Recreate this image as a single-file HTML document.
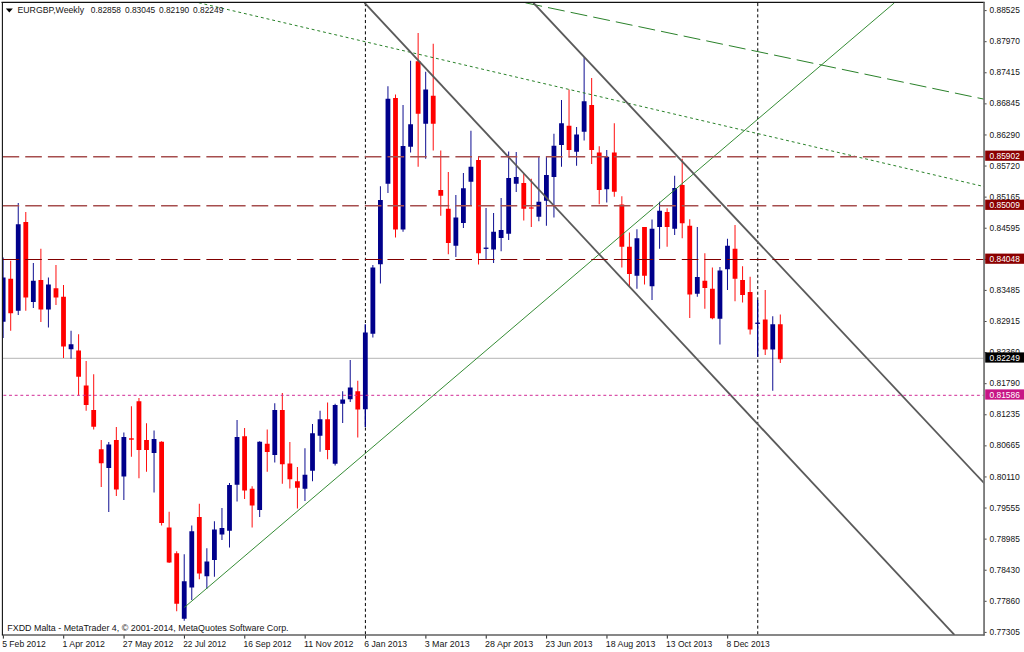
<!DOCTYPE html>
<html lang="en"><head><meta charset="utf-8"><title>EURGBP Weekly</title>
<style>
html,body{margin:0;padding:0;background:#fff;}
body{width:1024px;height:652px;overflow:hidden;position:relative;font-family:"Liberation Sans",sans-serif;}
svg{position:absolute;left:0;top:0;display:block;}
text{font-family:"Liberation Sans",sans-serif;fill:#141414;}
.ax{font-size:8.9px;}
.dt{font-size:8.9px;}
.tag{font-size:8.9px;fill:#fff;}
</style></head><body>
<svg width="1024" height="652" viewBox="0 0 1024 652">
<rect x="0" y="0" width="1024" height="652" fill="#fff"/>
<defs><clipPath id="plot"><rect x="2.9" y="2.9" width="980.6" height="631.6"/></clipPath></defs>
<g clip-path="url(#plot)">
<line x1="3" y1="358.3" x2="984" y2="358.3" stroke="#b4b4b4" stroke-width="1"/>
<line x1="365.4" y1="3" x2="365.4" y2="634.5" stroke="#000" stroke-width="1" stroke-dasharray="3.1 2.56"/>
<line x1="757.75" y1="3" x2="757.75" y2="634.5" stroke="#000" stroke-width="1" stroke-dasharray="3.1 2.56"/>
<line x1="3.15" y1="257.5" x2="3.15" y2="338" stroke="#00008b" stroke-width="0.95"/>
<rect x="0.75" y="277.5" width="4.8" height="44.25" fill="#00008b"/>
<line x1="10.7" y1="260.75" x2="10.7" y2="330.75" stroke="#ff0000" stroke-width="0.95"/>
<rect x="8.3" y="278.75" width="4.8" height="34.5" fill="#ff0000"/>
<line x1="18.24" y1="203" x2="18.24" y2="315" stroke="#00008b" stroke-width="0.95"/>
<rect x="15.84" y="224.25" width="4.8" height="86.5" fill="#00008b"/>
<line x1="25.79" y1="212" x2="25.79" y2="310.75" stroke="#ff0000" stroke-width="0.95"/>
<rect x="23.39" y="222" width="4.8" height="75.5" fill="#ff0000"/>
<line x1="33.33" y1="263" x2="33.33" y2="308" stroke="#00008b" stroke-width="0.95"/>
<rect x="30.93" y="280.75" width="4.8" height="21.25" fill="#00008b"/>
<line x1="40.88" y1="248.75" x2="40.88" y2="322" stroke="#ff0000" stroke-width="0.95"/>
<rect x="38.48" y="280" width="4.8" height="29.5" fill="#ff0000"/>
<line x1="48.42" y1="277.5" x2="48.42" y2="327.5" stroke="#00008b" stroke-width="0.95"/>
<rect x="46.02" y="284.5" width="4.8" height="25" fill="#00008b"/>
<line x1="55.97" y1="265" x2="55.97" y2="305" stroke="#ff0000" stroke-width="0.95"/>
<rect x="53.57" y="288.25" width="4.8" height="9.25" fill="#ff0000"/>
<line x1="63.51" y1="285" x2="63.51" y2="358" stroke="#ff0000" stroke-width="0.95"/>
<rect x="61.11" y="296.75" width="4.8" height="49.75" fill="#ff0000"/>
<line x1="71.06" y1="330.75" x2="71.06" y2="358.75" stroke="#00008b" stroke-width="0.95"/>
<rect x="68.66" y="344.25" width="4.8" height="5" fill="#00008b"/>
<line x1="78.6" y1="334.25" x2="78.6" y2="395.5" stroke="#ff0000" stroke-width="0.95"/>
<rect x="76.2" y="350.5" width="4.8" height="26.25" fill="#ff0000"/>
<line x1="86.15" y1="361" x2="86.15" y2="410.75" stroke="#ff0000" stroke-width="0.95"/>
<rect x="83.75" y="385.5" width="4.8" height="19.5" fill="#ff0000"/>
<line x1="93.69" y1="374.25" x2="93.69" y2="429.5" stroke="#ff0000" stroke-width="0.95"/>
<rect x="91.29" y="410" width="4.8" height="16.75" fill="#ff0000"/>
<line x1="101.24" y1="440" x2="101.24" y2="487" stroke="#ff0000" stroke-width="0.95"/>
<rect x="98.84" y="449.25" width="4.8" height="14" fill="#ff0000"/>
<line x1="108.78" y1="442" x2="108.78" y2="512" stroke="#00008b" stroke-width="0.95"/>
<rect x="106.38" y="444.5" width="4.8" height="23.5" fill="#00008b"/>
<line x1="116.33" y1="427" x2="116.33" y2="496" stroke="#ff0000" stroke-width="0.95"/>
<rect x="113.93" y="440" width="4.8" height="49.5" fill="#ff0000"/>
<line x1="123.87" y1="432.5" x2="123.87" y2="500" stroke="#00008b" stroke-width="0.95"/>
<rect x="121.47" y="437" width="4.8" height="39.5" fill="#00008b"/>
<line x1="131.42" y1="406.25" x2="131.42" y2="456.75" stroke="#ff0000" stroke-width="0.95"/>
<rect x="129.02" y="438.3" width="4.8" height="1.4" fill="#ff0000"/>
<line x1="138.96" y1="398" x2="138.96" y2="478.25" stroke="#ff0000" stroke-width="0.95"/>
<rect x="136.56" y="401.25" width="4.8" height="48.75" fill="#ff0000"/>
<line x1="146.51" y1="423.25" x2="146.51" y2="471.75" stroke="#ff0000" stroke-width="0.95"/>
<rect x="144.11" y="440" width="4.8" height="10" fill="#ff0000"/>
<line x1="154.05" y1="430.5" x2="154.05" y2="492.5" stroke="#00008b" stroke-width="0.95"/>
<rect x="151.65" y="439" width="4.8" height="14" fill="#00008b"/>
<line x1="161.6" y1="441.25" x2="161.6" y2="525.5" stroke="#ff0000" stroke-width="0.95"/>
<rect x="159.2" y="441.75" width="4.8" height="81.25" fill="#ff0000"/>
<line x1="169.14" y1="511.75" x2="169.14" y2="563" stroke="#ff0000" stroke-width="0.95"/>
<rect x="166.74" y="527.5" width="4.8" height="35" fill="#ff0000"/>
<line x1="176.69" y1="551.25" x2="176.69" y2="611.25" stroke="#ff0000" stroke-width="0.95"/>
<rect x="174.29" y="553.25" width="4.8" height="50.5" fill="#ff0000"/>
<line x1="184.23" y1="554.25" x2="184.23" y2="620.75" stroke="#00008b" stroke-width="0.95"/>
<rect x="181.83" y="581.25" width="4.8" height="37.5" fill="#00008b"/>
<line x1="191.78" y1="525.5" x2="191.78" y2="600" stroke="#00008b" stroke-width="0.95"/>
<rect x="189.38" y="531.25" width="4.8" height="56.25" fill="#00008b"/>
<line x1="199.32" y1="503.75" x2="199.32" y2="579.25" stroke="#ff0000" stroke-width="0.95"/>
<rect x="196.92" y="517" width="4.8" height="56.5" fill="#ff0000"/>
<line x1="206.87" y1="548.25" x2="206.87" y2="588.75" stroke="#00008b" stroke-width="0.95"/>
<rect x="204.47" y="561.5" width="4.8" height="14.75" fill="#00008b"/>
<line x1="214.41" y1="521.25" x2="214.41" y2="576.75" stroke="#00008b" stroke-width="0.95"/>
<rect x="212.01" y="529.5" width="4.8" height="30.5" fill="#00008b"/>
<line x1="221.96" y1="508" x2="221.96" y2="540" stroke="#00008b" stroke-width="0.95"/>
<rect x="219.56" y="528" width="4.8" height="6.5" fill="#00008b"/>
<line x1="229.5" y1="483" x2="229.5" y2="547.5" stroke="#00008b" stroke-width="0.95"/>
<rect x="227.1" y="485" width="4.8" height="45.75" fill="#00008b"/>
<line x1="237.05" y1="420" x2="237.05" y2="501.5" stroke="#00008b" stroke-width="0.95"/>
<rect x="234.65" y="437" width="4.8" height="47.75" fill="#00008b"/>
<line x1="244.59" y1="428" x2="244.59" y2="499" stroke="#ff0000" stroke-width="0.95"/>
<rect x="242.19" y="436.25" width="4.8" height="54.25" fill="#ff0000"/>
<line x1="252.14" y1="486.25" x2="252.14" y2="527.5" stroke="#ff0000" stroke-width="0.95"/>
<rect x="249.74" y="488.75" width="4.8" height="16.75" fill="#ff0000"/>
<line x1="259.68" y1="441.25" x2="259.68" y2="517" stroke="#00008b" stroke-width="0.95"/>
<rect x="257.28" y="441.75" width="4.8" height="68.25" fill="#00008b"/>
<line x1="267.23" y1="429.5" x2="267.23" y2="471.75" stroke="#ff0000" stroke-width="0.95"/>
<rect x="264.83" y="443.75" width="4.8" height="8.25" fill="#ff0000"/>
<line x1="274.78" y1="403.25" x2="274.78" y2="462.5" stroke="#00008b" stroke-width="0.95"/>
<rect x="272.38" y="410" width="4.8" height="45" fill="#00008b"/>
<line x1="282.32" y1="393" x2="282.32" y2="483.75" stroke="#ff0000" stroke-width="0.95"/>
<rect x="279.92" y="410" width="4.8" height="54.25" fill="#ff0000"/>
<line x1="289.87" y1="442" x2="289.87" y2="488.5" stroke="#ff0000" stroke-width="0.95"/>
<rect x="287.47" y="463.5" width="4.8" height="15.75" fill="#ff0000"/>
<line x1="297.41" y1="467" x2="297.41" y2="508.5" stroke="#ff0000" stroke-width="0.95"/>
<rect x="295.01" y="481.25" width="4.8" height="6.5" fill="#ff0000"/>
<line x1="304.96" y1="448.25" x2="304.96" y2="501" stroke="#00008b" stroke-width="0.95"/>
<rect x="302.56" y="474.75" width="4.8" height="14" fill="#00008b"/>
<line x1="312.5" y1="424" x2="312.5" y2="481.25" stroke="#00008b" stroke-width="0.95"/>
<rect x="310.1" y="433.25" width="4.8" height="37.5" fill="#00008b"/>
<line x1="320.05" y1="410.75" x2="320.05" y2="451.75" stroke="#00008b" stroke-width="0.95"/>
<rect x="317.65" y="419.25" width="4.8" height="16.5" fill="#00008b"/>
<line x1="327.59" y1="402.5" x2="327.59" y2="459.25" stroke="#ff0000" stroke-width="0.95"/>
<rect x="325.19" y="419.25" width="4.8" height="30.75" fill="#ff0000"/>
<line x1="335.14" y1="403.75" x2="335.14" y2="465.5" stroke="#00008b" stroke-width="0.95"/>
<rect x="332.74" y="405" width="4.8" height="58.75" fill="#00008b"/>
<line x1="342.68" y1="391.25" x2="342.68" y2="423" stroke="#00008b" stroke-width="0.95"/>
<rect x="340.28" y="399.5" width="4.8" height="4.25" fill="#00008b"/>
<line x1="350.23" y1="360" x2="350.23" y2="402" stroke="#00008b" stroke-width="0.95"/>
<rect x="347.83" y="387.5" width="4.8" height="11.75" fill="#00008b"/>
<line x1="357.77" y1="380.75" x2="357.77" y2="437.5" stroke="#ff0000" stroke-width="0.95"/>
<rect x="355.37" y="391.25" width="4.8" height="18.25" fill="#ff0000"/>
<line x1="365.32" y1="324.25" x2="365.32" y2="427" stroke="#00008b" stroke-width="1.35"/>
<rect x="362.92" y="332.5" width="4.8" height="76.75" fill="#00008b"/>
<line x1="372.86" y1="265" x2="372.86" y2="337.5" stroke="#00008b" stroke-width="0.95"/>
<rect x="370.46" y="267.5" width="4.8" height="66.25" fill="#00008b"/>
<line x1="380.41" y1="186.25" x2="380.41" y2="283.5" stroke="#00008b" stroke-width="0.95"/>
<rect x="378.01" y="200" width="4.8" height="64.25" fill="#00008b"/>
<line x1="387.95" y1="86.25" x2="387.95" y2="193" stroke="#00008b" stroke-width="0.95"/>
<rect x="385.55" y="98.75" width="4.8" height="85" fill="#00008b"/>
<line x1="395.5" y1="94.5" x2="395.5" y2="237.5" stroke="#ff0000" stroke-width="0.95"/>
<rect x="393.1" y="98" width="4.8" height="131.5" fill="#ff0000"/>
<line x1="403.04" y1="105" x2="403.04" y2="231.75" stroke="#00008b" stroke-width="0.95"/>
<rect x="400.64" y="146" width="4.8" height="83.5" fill="#00008b"/>
<line x1="410.59" y1="60.75" x2="410.59" y2="152.5" stroke="#00008b" stroke-width="0.95"/>
<rect x="408.19" y="124.25" width="4.8" height="22.5" fill="#00008b"/>
<line x1="418.13" y1="33" x2="418.13" y2="166.75" stroke="#ff0000" stroke-width="0.95"/>
<rect x="415.73" y="61.25" width="4.8" height="52.5" fill="#ff0000"/>
<line x1="425.68" y1="71.75" x2="425.68" y2="158.75" stroke="#00008b" stroke-width="0.95"/>
<rect x="423.28" y="89.5" width="4.8" height="34.25" fill="#00008b"/>
<line x1="433.22" y1="43.75" x2="433.22" y2="150.5" stroke="#ff0000" stroke-width="0.95"/>
<rect x="430.82" y="95.75" width="4.8" height="28" fill="#ff0000"/>
<line x1="440.77" y1="150.5" x2="440.77" y2="215.75" stroke="#ff0000" stroke-width="0.95"/>
<rect x="438.37" y="190" width="4.8" height="5.75" fill="#ff0000"/>
<line x1="448.31" y1="172" x2="448.31" y2="254.25" stroke="#ff0000" stroke-width="0.95"/>
<rect x="445.91" y="208.75" width="4.8" height="34.25" fill="#ff0000"/>
<line x1="455.86" y1="195" x2="455.86" y2="257" stroke="#00008b" stroke-width="0.95"/>
<rect x="453.46" y="217.5" width="4.8" height="28.25" fill="#00008b"/>
<line x1="463.4" y1="173" x2="463.4" y2="228" stroke="#00008b" stroke-width="0.95"/>
<rect x="461" y="188.25" width="4.8" height="34.75" fill="#00008b"/>
<line x1="470.95" y1="130.75" x2="470.95" y2="205.5" stroke="#00008b" stroke-width="0.95"/>
<rect x="468.55" y="166.75" width="4.8" height="15" fill="#00008b"/>
<line x1="478.49" y1="156.25" x2="478.49" y2="264.5" stroke="#ff0000" stroke-width="0.95"/>
<rect x="476.09" y="160" width="4.8" height="93.25" fill="#ff0000"/>
<line x1="486.04" y1="208" x2="486.04" y2="259.5" stroke="#00008b" stroke-width="0.95"/>
<rect x="483.64" y="247.6" width="4.8" height="1.3" fill="#00008b"/>
<line x1="493.58" y1="213" x2="493.58" y2="263" stroke="#00008b" stroke-width="0.95"/>
<rect x="491.18" y="231.75" width="4.8" height="17.75" fill="#00008b"/>
<line x1="501.13" y1="198" x2="501.13" y2="251.25" stroke="#00008b" stroke-width="0.95"/>
<rect x="498.73" y="230" width="4.8" height="8" fill="#00008b"/>
<line x1="508.67" y1="151.5" x2="508.67" y2="240" stroke="#00008b" stroke-width="0.95"/>
<rect x="506.27" y="178" width="4.8" height="55.75" fill="#00008b"/>
<line x1="516.22" y1="152" x2="516.22" y2="192" stroke="#00008b" stroke-width="0.95"/>
<rect x="513.82" y="177" width="4.8" height="6.75" fill="#00008b"/>
<line x1="523.77" y1="174" x2="523.77" y2="220.5" stroke="#ff0000" stroke-width="0.95"/>
<rect x="521.37" y="183" width="4.8" height="25.75" fill="#ff0000"/>
<line x1="531.31" y1="178.75" x2="531.31" y2="227" stroke="#ff0000" stroke-width="0.95"/>
<rect x="528.91" y="207.4" width="4.8" height="1.2" fill="#ff0000"/>
<line x1="538.86" y1="157" x2="538.86" y2="221.25" stroke="#00008b" stroke-width="0.95"/>
<rect x="536.46" y="201.75" width="4.8" height="15" fill="#00008b"/>
<line x1="546.4" y1="156.25" x2="546.4" y2="225.75" stroke="#00008b" stroke-width="0.95"/>
<rect x="544" y="175" width="4.8" height="25.75" fill="#00008b"/>
<line x1="553.95" y1="133.75" x2="553.95" y2="217.5" stroke="#00008b" stroke-width="0.95"/>
<rect x="551.55" y="145.75" width="4.8" height="31.25" fill="#00008b"/>
<line x1="561.49" y1="100" x2="561.49" y2="166.75" stroke="#00008b" stroke-width="0.95"/>
<rect x="559.09" y="123.25" width="4.8" height="21.75" fill="#00008b"/>
<line x1="569.04" y1="89.5" x2="569.04" y2="157.5" stroke="#ff0000" stroke-width="0.95"/>
<rect x="566.64" y="125.75" width="4.8" height="24.25" fill="#ff0000"/>
<line x1="576.58" y1="127" x2="576.58" y2="165.75" stroke="#00008b" stroke-width="0.95"/>
<rect x="574.18" y="134.5" width="4.8" height="17.25" fill="#00008b"/>
<line x1="584.13" y1="57.25" x2="584.13" y2="140.5" stroke="#00008b" stroke-width="0.95"/>
<rect x="581.73" y="101.25" width="4.8" height="30.5" fill="#00008b"/>
<line x1="591.67" y1="78" x2="591.67" y2="164" stroke="#ff0000" stroke-width="0.95"/>
<rect x="589.27" y="105" width="4.8" height="45" fill="#ff0000"/>
<line x1="599.22" y1="146.25" x2="599.22" y2="204.25" stroke="#ff0000" stroke-width="0.95"/>
<rect x="596.82" y="152.5" width="4.8" height="37.5" fill="#ff0000"/>
<line x1="606.76" y1="150" x2="606.76" y2="202.5" stroke="#00008b" stroke-width="0.95"/>
<rect x="604.36" y="156.75" width="4.8" height="32.5" fill="#00008b"/>
<line x1="614.31" y1="123.25" x2="614.31" y2="196.75" stroke="#ff0000" stroke-width="0.95"/>
<rect x="611.91" y="152.5" width="4.8" height="39.25" fill="#ff0000"/>
<line x1="621.85" y1="196.25" x2="621.85" y2="267.5" stroke="#ff0000" stroke-width="0.95"/>
<rect x="619.45" y="204.5" width="4.8" height="42.25" fill="#ff0000"/>
<line x1="629.4" y1="232.5" x2="629.4" y2="287" stroke="#ff0000" stroke-width="0.95"/>
<rect x="627" y="246.75" width="4.8" height="27.25" fill="#ff0000"/>
<line x1="636.94" y1="229.25" x2="636.94" y2="288.75" stroke="#00008b" stroke-width="0.95"/>
<rect x="634.54" y="238.25" width="4.8" height="37.5" fill="#00008b"/>
<line x1="644.49" y1="227" x2="644.49" y2="284.5" stroke="#ff0000" stroke-width="0.95"/>
<rect x="642.09" y="227" width="4.8" height="48.75" fill="#ff0000"/>
<line x1="652.03" y1="219.5" x2="652.03" y2="300" stroke="#00008b" stroke-width="0.95"/>
<rect x="649.63" y="228.75" width="4.8" height="57.5" fill="#00008b"/>
<line x1="659.58" y1="201.75" x2="659.58" y2="248.75" stroke="#00008b" stroke-width="0.95"/>
<rect x="657.18" y="210.75" width="4.8" height="16.25" fill="#00008b"/>
<line x1="667.12" y1="208.25" x2="667.12" y2="246.75" stroke="#ff0000" stroke-width="0.95"/>
<rect x="664.72" y="212" width="4.8" height="15" fill="#ff0000"/>
<line x1="674.67" y1="175.75" x2="674.67" y2="235" stroke="#00008b" stroke-width="0.95"/>
<rect x="672.27" y="188" width="4.8" height="40.75" fill="#00008b"/>
<line x1="682.21" y1="158.75" x2="682.21" y2="238.25" stroke="#ff0000" stroke-width="0.95"/>
<rect x="679.81" y="185" width="4.8" height="38.25" fill="#ff0000"/>
<line x1="689.76" y1="219.25" x2="689.76" y2="318" stroke="#ff0000" stroke-width="0.95"/>
<rect x="687.36" y="225.75" width="4.8" height="68.75" fill="#ff0000"/>
<line x1="697.3" y1="227" x2="697.3" y2="296.75" stroke="#00008b" stroke-width="0.95"/>
<rect x="694.9" y="277" width="4.8" height="16.75" fill="#00008b"/>
<line x1="704.85" y1="253.25" x2="704.85" y2="308.75" stroke="#ff0000" stroke-width="0.95"/>
<rect x="702.45" y="280.75" width="4.8" height="7.25" fill="#ff0000"/>
<line x1="712.39" y1="267.5" x2="712.39" y2="319.25" stroke="#ff0000" stroke-width="0.95"/>
<rect x="709.99" y="288.75" width="4.8" height="29.5" fill="#ff0000"/>
<line x1="719.94" y1="267" x2="719.94" y2="344.5" stroke="#00008b" stroke-width="0.95"/>
<rect x="717.54" y="270.5" width="4.8" height="48.25" fill="#00008b"/>
<line x1="727.48" y1="238.75" x2="727.48" y2="290" stroke="#00008b" stroke-width="0.95"/>
<rect x="725.08" y="245.75" width="4.8" height="23.5" fill="#00008b"/>
<line x1="735.03" y1="225" x2="735.03" y2="301.25" stroke="#ff0000" stroke-width="0.95"/>
<rect x="732.63" y="248.75" width="4.8" height="30" fill="#ff0000"/>
<line x1="742.57" y1="266.25" x2="742.57" y2="302.5" stroke="#ff0000" stroke-width="0.95"/>
<rect x="740.17" y="280" width="4.8" height="15" fill="#ff0000"/>
<line x1="750.12" y1="276.75" x2="750.12" y2="334.5" stroke="#ff0000" stroke-width="0.95"/>
<rect x="747.72" y="292" width="4.8" height="37.5" fill="#ff0000"/>
<line x1="757.66" y1="300" x2="757.66" y2="356.75" stroke="#00008b" stroke-width="1.35"/>
<rect x="755.26" y="322.6" width="4.8" height="1.3" fill="#00008b"/>
<line x1="765.21" y1="290" x2="765.21" y2="355" stroke="#ff0000" stroke-width="0.95"/>
<rect x="762.81" y="319.5" width="4.8" height="30" fill="#ff0000"/>
<line x1="772.75" y1="316.25" x2="772.75" y2="390.75" stroke="#00008b" stroke-width="0.95"/>
<rect x="770.35" y="324.25" width="4.8" height="25.25" fill="#00008b"/>
<line x1="780.3" y1="314.5" x2="780.3" y2="363" stroke="#ff0000" stroke-width="0.95"/>
<rect x="777.9" y="324.25" width="4.8" height="35" fill="#ff0000"/>
<line x1="184.25" y1="607.5" x2="894.2" y2="3" stroke="#2a862a" stroke-width="0.95"/>
<line x1="198.75" y1="2.77" x2="985" y2="186.8" stroke="#1c7a1c" stroke-width="0.95" stroke-dasharray="2.9 2.9"/>
<line x1="525.4" y1="2.8" x2="984.5" y2="99.25" stroke="#1f7a1f" stroke-width="0.95" stroke-dasharray="17 6.1" stroke-dashoffset="0"/>
<line x1="364.55" y1="2.8" x2="954.45" y2="634.9" stroke="#5a5a5a" stroke-width="1.8"/>
<line x1="533.37" y1="2.8" x2="984.4" y2="483.45" stroke="#5a5a5a" stroke-width="1.8"/>
<line x1="2.6" y1="156.65" x2="984" y2="156.65" stroke="#a64e4e" stroke-width="1.45" stroke-dasharray="16.6 6.04"/>
<line x1="2.6" y1="205.75" x2="984" y2="205.75" stroke="#a64e4e" stroke-width="1.45" stroke-dasharray="16.6 6.04"/>
<line x1="2.6" y1="259.5" x2="984" y2="259.5" stroke="#800000" stroke-width="1.0" stroke-dasharray="16.6 6.04"/>
<line x1="3.4" y1="395.3" x2="984" y2="395.3" stroke="#d02a95" stroke-width="1" stroke-dasharray="2.9 2.76"/>
</g>
<line x1="1.5" y1="2.4" x2="984.6" y2="2.4" stroke="#111" stroke-width="1.1"/>
<line x1="2.4" y1="2" x2="2.4" y2="635.3" stroke="#111" stroke-width="1.1"/>
<line x1="1.9" y1="635" x2="984.6" y2="635" stroke="#111" stroke-width="1.1"/>
<line x1="984.05" y1="2" x2="984.05" y2="635.4" stroke="#606060" stroke-width="1.55"/>
<line x1="984.6" y1="10.6" x2="986.6" y2="10.6" stroke="#484848" stroke-width="1"/>
<text class="ax" x="989.5" y="13.2" textLength="30.3" lengthAdjust="spacingAndGlyphs">0.88525</text>
<line x1="984.6" y1="41.69" x2="986.6" y2="41.69" stroke="#484848" stroke-width="1"/>
<text class="ax" x="989.5" y="44.29" textLength="30.3" lengthAdjust="spacingAndGlyphs">0.87970</text>
<line x1="984.6" y1="72.78" x2="986.6" y2="72.78" stroke="#484848" stroke-width="1"/>
<text class="ax" x="989.5" y="75.38" textLength="30.3" lengthAdjust="spacingAndGlyphs">0.87415</text>
<line x1="984.6" y1="103.87" x2="986.6" y2="103.87" stroke="#484848" stroke-width="1"/>
<text class="ax" x="989.5" y="106.47" textLength="30.3" lengthAdjust="spacingAndGlyphs">0.86845</text>
<line x1="984.6" y1="134.96" x2="986.6" y2="134.96" stroke="#484848" stroke-width="1"/>
<text class="ax" x="989.5" y="137.56" textLength="30.3" lengthAdjust="spacingAndGlyphs">0.86290</text>
<line x1="984.6" y1="166.05" x2="986.6" y2="166.05" stroke="#484848" stroke-width="1"/>
<text class="ax" x="989.5" y="168.65" textLength="30.3" lengthAdjust="spacingAndGlyphs">0.85720</text>
<line x1="984.6" y1="197.14" x2="986.6" y2="197.14" stroke="#484848" stroke-width="1"/>
<text class="ax" x="989.5" y="199.74" textLength="30.3" lengthAdjust="spacingAndGlyphs">0.85165</text>
<line x1="984.6" y1="228.23" x2="986.6" y2="228.23" stroke="#484848" stroke-width="1"/>
<text class="ax" x="989.5" y="230.83" textLength="30.3" lengthAdjust="spacingAndGlyphs">0.84595</text>
<line x1="984.6" y1="259.32" x2="986.6" y2="259.32" stroke="#484848" stroke-width="1"/>
<text class="ax" x="989.5" y="261.92" textLength="30.3" lengthAdjust="spacingAndGlyphs">0.84040</text>
<line x1="984.6" y1="290.41" x2="986.6" y2="290.41" stroke="#484848" stroke-width="1"/>
<text class="ax" x="989.5" y="293.01" textLength="30.3" lengthAdjust="spacingAndGlyphs">0.83485</text>
<line x1="984.6" y1="321.5" x2="986.6" y2="321.5" stroke="#484848" stroke-width="1"/>
<text class="ax" x="989.5" y="324.1" textLength="30.3" lengthAdjust="spacingAndGlyphs">0.82915</text>
<line x1="984.6" y1="352.59" x2="986.6" y2="352.59" stroke="#484848" stroke-width="1"/>
<text class="ax" x="989.5" y="355.19" textLength="30.3" lengthAdjust="spacingAndGlyphs">0.82360</text>
<line x1="984.6" y1="383.68" x2="986.6" y2="383.68" stroke="#484848" stroke-width="1"/>
<text class="ax" x="989.5" y="386.28" textLength="30.3" lengthAdjust="spacingAndGlyphs">0.81790</text>
<line x1="984.6" y1="414.77" x2="986.6" y2="414.77" stroke="#484848" stroke-width="1"/>
<text class="ax" x="989.5" y="417.37" textLength="30.3" lengthAdjust="spacingAndGlyphs">0.81235</text>
<line x1="984.6" y1="445.86" x2="986.6" y2="445.86" stroke="#484848" stroke-width="1"/>
<text class="ax" x="989.5" y="448.46" textLength="30.3" lengthAdjust="spacingAndGlyphs">0.80665</text>
<line x1="984.6" y1="476.95" x2="986.6" y2="476.95" stroke="#484848" stroke-width="1"/>
<text class="ax" x="989.5" y="479.55" textLength="30.3" lengthAdjust="spacingAndGlyphs">0.80110</text>
<line x1="984.6" y1="508.04" x2="986.6" y2="508.04" stroke="#484848" stroke-width="1"/>
<text class="ax" x="989.5" y="510.64" textLength="30.3" lengthAdjust="spacingAndGlyphs">0.79555</text>
<line x1="984.6" y1="539.13" x2="986.6" y2="539.13" stroke="#484848" stroke-width="1"/>
<text class="ax" x="989.5" y="541.73" textLength="30.3" lengthAdjust="spacingAndGlyphs">0.78985</text>
<line x1="984.6" y1="570.22" x2="986.6" y2="570.22" stroke="#484848" stroke-width="1"/>
<text class="ax" x="989.5" y="572.82" textLength="30.3" lengthAdjust="spacingAndGlyphs">0.78430</text>
<line x1="984.6" y1="601.31" x2="986.6" y2="601.31" stroke="#484848" stroke-width="1"/>
<text class="ax" x="989.5" y="603.91" textLength="30.3" lengthAdjust="spacingAndGlyphs">0.77860</text>
<line x1="984.6" y1="632.4" x2="986.6" y2="632.4" stroke="#484848" stroke-width="1"/>
<text class="ax" x="989.5" y="635" textLength="30.3" lengthAdjust="spacingAndGlyphs">0.77305</text>
<rect x="985.2" y="150.6" width="38.8" height="10.2" fill="#8b0000"/>
<text class="tag" x="989.5" y="159.1" textLength="30.3" lengthAdjust="spacingAndGlyphs">0.85902</text>
<rect x="985.2" y="199.7" width="38.8" height="10.2" fill="#8b0000"/>
<text class="tag" x="989.5" y="208.2" textLength="30.3" lengthAdjust="spacingAndGlyphs">0.85009</text>
<rect x="985.2" y="253.6" width="38.8" height="10.2" fill="#8b0000"/>
<text class="tag" x="989.5" y="262.1" textLength="30.3" lengthAdjust="spacingAndGlyphs">0.84048</text>
<rect x="985.2" y="352.4" width="38.8" height="10.2" fill="#000"/>
<text class="tag" x="989.5" y="360.9" textLength="30.3" lengthAdjust="spacingAndGlyphs">0.82249</text>
<rect x="985.2" y="389.4" width="38.8" height="10.2" fill="#c71585"/>
<text class="tag" x="989.5" y="397.9" textLength="30.3" lengthAdjust="spacingAndGlyphs">0.81586</text>
<line x1="3.35" y1="635.4" x2="3.35" y2="638.6" stroke="#222" stroke-width="1"/>
<text class="dt" x="2.15" y="647.1" textLength="43.6" lengthAdjust="spacingAndGlyphs">5 Feb 2012</text>
<line x1="63.71" y1="635.4" x2="63.71" y2="638.6" stroke="#222" stroke-width="1"/>
<text class="dt" x="62.51" y="647.1" textLength="42.5" lengthAdjust="spacingAndGlyphs">1 Apr 2012</text>
<line x1="124.07" y1="635.4" x2="124.07" y2="638.6" stroke="#222" stroke-width="1"/>
<text class="dt" x="122.87" y="647.1" textLength="50.5" lengthAdjust="spacingAndGlyphs">27 May 2012</text>
<line x1="184.43" y1="635.4" x2="184.43" y2="638.6" stroke="#222" stroke-width="1"/>
<text class="dt" x="183.23" y="647.1" textLength="43" lengthAdjust="spacingAndGlyphs">22 Jul 2012</text>
<line x1="244.79" y1="635.4" x2="244.79" y2="638.6" stroke="#222" stroke-width="1"/>
<text class="dt" x="243.59" y="647.1" textLength="48" lengthAdjust="spacingAndGlyphs">16 Sep 2012</text>
<line x1="305.16" y1="635.4" x2="305.16" y2="638.6" stroke="#222" stroke-width="1"/>
<text class="dt" x="303.96" y="647.1" textLength="49.6" lengthAdjust="spacingAndGlyphs">11 Nov 2012</text>
<line x1="365.52" y1="635.4" x2="365.52" y2="638.6" stroke="#222" stroke-width="1"/>
<text class="dt" x="364.32" y="647.1" textLength="42.8" lengthAdjust="spacingAndGlyphs">6 Jan 2013</text>
<line x1="425.88" y1="635.4" x2="425.88" y2="638.6" stroke="#222" stroke-width="1"/>
<text class="dt" x="424.68" y="647.1" textLength="44.9" lengthAdjust="spacingAndGlyphs">3 Mar 2013</text>
<line x1="486.24" y1="635.4" x2="486.24" y2="638.6" stroke="#222" stroke-width="1"/>
<text class="dt" x="485.04" y="647.1" textLength="48.3" lengthAdjust="spacingAndGlyphs">28 Apr 2013</text>
<line x1="546.6" y1="635.4" x2="546.6" y2="638.6" stroke="#222" stroke-width="1"/>
<text class="dt" x="545.4" y="647.1" textLength="47" lengthAdjust="spacingAndGlyphs">23 Jun 2013</text>
<line x1="606.96" y1="635.4" x2="606.96" y2="638.6" stroke="#222" stroke-width="1"/>
<text class="dt" x="605.76" y="647.1" textLength="49.6" lengthAdjust="spacingAndGlyphs">18 Aug 2013</text>
<line x1="667.32" y1="635.4" x2="667.32" y2="638.6" stroke="#222" stroke-width="1"/>
<text class="dt" x="666.12" y="647.1" textLength="46.2" lengthAdjust="spacingAndGlyphs">13 Oct 2013</text>
<line x1="727.68" y1="635.4" x2="727.68" y2="638.6" stroke="#222" stroke-width="1"/>
<text class="dt" x="726.48" y="647.1" textLength="43.3" lengthAdjust="spacingAndGlyphs">8 Dec 2013</text>
<path d="M5.8 8.4 L12.8 8.4 L9.3 12.5 Z" fill="#000"/>
<text class="ax" x="17.5" y="13.1" textLength="66.5" lengthAdjust="spacingAndGlyphs">EURGBP,Weekly</text>
<text class="ax" x="90.8" y="13.1" textLength="30.2" lengthAdjust="spacingAndGlyphs">0.82858</text>
<text class="ax" x="125" y="13.1" textLength="30.2" lengthAdjust="spacingAndGlyphs">0.83045</text>
<text class="ax" x="159" y="13.1" textLength="30.2" lengthAdjust="spacingAndGlyphs">0.82190</text>
<text class="ax" x="193.1" y="13.1" textLength="30.2" lengthAdjust="spacingAndGlyphs">0.82249</text>
<text class="ax" x="7.3" y="631" textLength="281.3" lengthAdjust="spacingAndGlyphs">FXDD Malta - MetaTrader 4, © 2001-2014, MetaQuotes Software Corp.</text>
</svg>
</body></html>
